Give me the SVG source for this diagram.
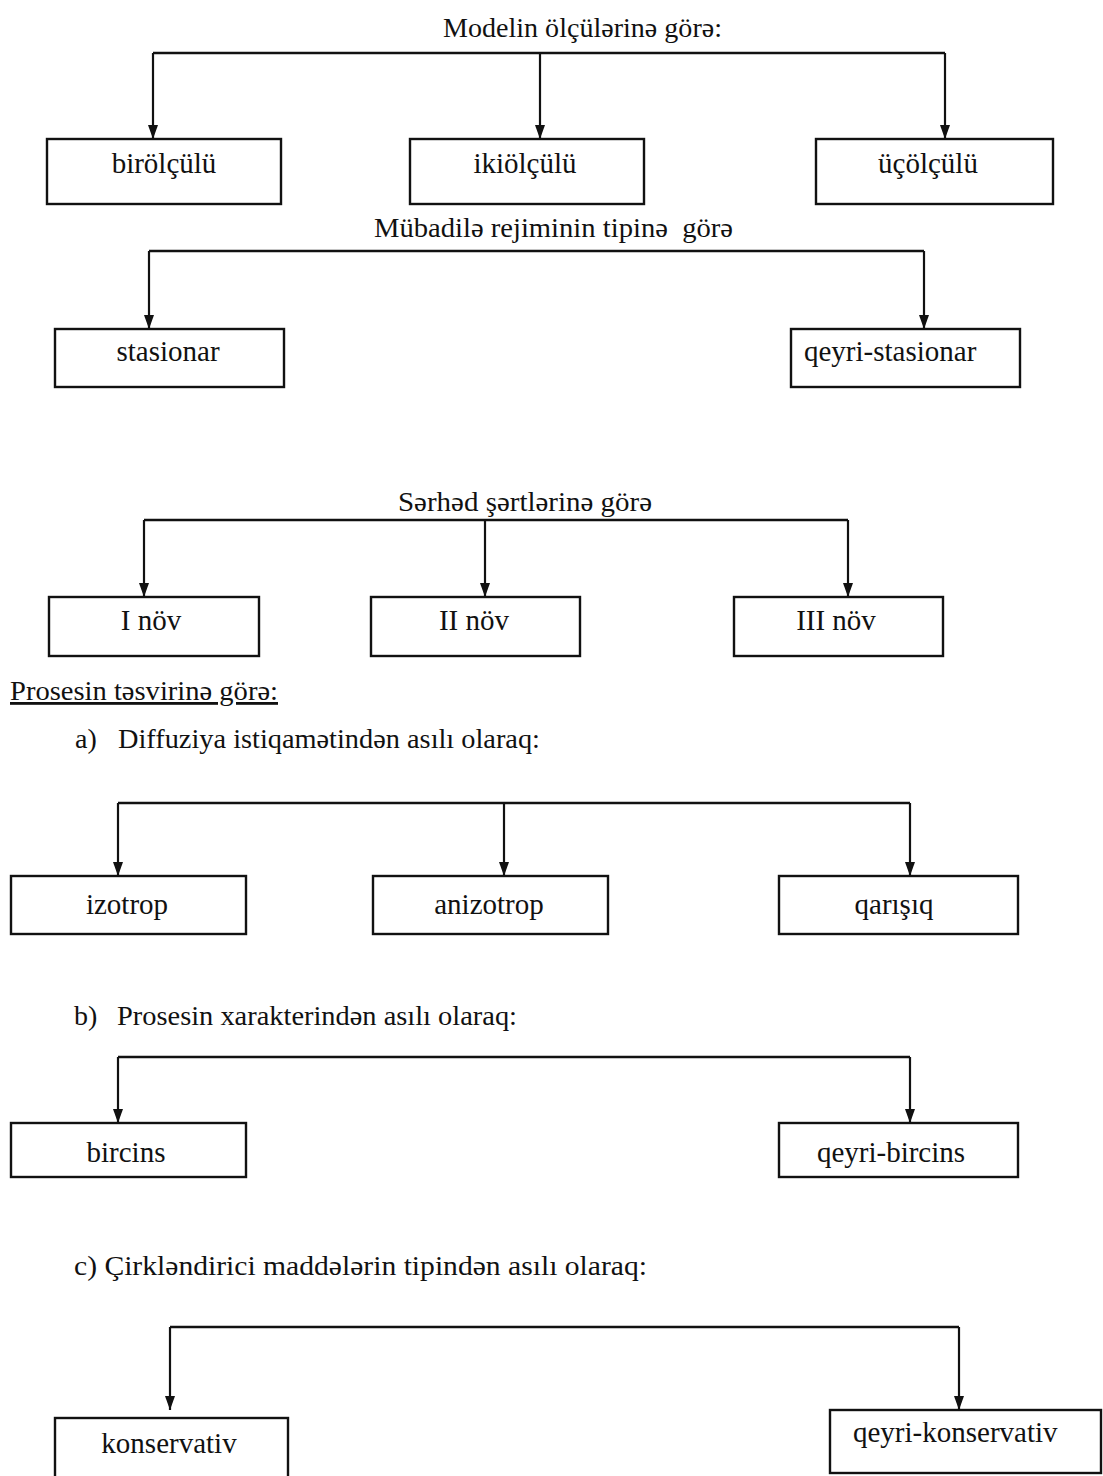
<svg xmlns="http://www.w3.org/2000/svg" width="1103" height="1476" viewBox="0 0 1103 1476">
<style>
text{font-family:"Liberation Serif","Times New Roman",serif;fill:#111;}
.h{font-size:28px;}
.l{font-size:29px;text-anchor:middle;}
.ls{font-size:29px;}
.box{fill:#fff;stroke:#111;stroke-width:2.4;}
.bar{fill:none;stroke:#111;stroke-width:2.4;}
.drop{fill:none;stroke:#111;stroke-width:2.2;marker-end:url(#ah);}
</style>
<defs>
<marker id="ah" viewBox="0 0 14 10" refX="14" refY="5" markerWidth="14" markerHeight="10" markerUnits="userSpaceOnUse" orient="auto">
<path d="M0,0 L14,5 L0,10 z" fill="#111"/>
</marker>
</defs>
<rect width="1103" height="1476" fill="#fff"/>
<g id="headings">
<text class="h" x="443" y="37" textLength="279" lengthAdjust="spacingAndGlyphs">Modelin ölçülərinə görə:</text>
<text class="h" x="374" y="237" textLength="359" lengthAdjust="spacingAndGlyphs" style="white-space:pre">Mübadilə rejiminin tipinə  görə</text>
<text class="h" x="398" y="511" textLength="254" lengthAdjust="spacingAndGlyphs">Sərhəd şərtlərinə görə</text>
<text class="h" x="10" y="700" text-decoration="underline" textLength="268" lengthAdjust="spacingAndGlyphs">Prosesin təsvirinə görə:</text>
<text class="h" x="75" y="748">a)<tspan x="118" textLength="422" lengthAdjust="spacingAndGlyphs">Diffuziya istiqamətindən asılı olaraq:</tspan></text>
<text class="h" x="74" y="1025">b)<tspan x="117" textLength="400" lengthAdjust="spacingAndGlyphs">Prosesin xarakterindən asılı olaraq:</tspan></text>
<text class="h" x="74" y="1275" textLength="573" lengthAdjust="spacingAndGlyphs">c) Çirkləndirici maddələrin tipindən asılı olaraq:</text>
</g>
<g id="connectors">
<path class="bar" d="M153,53 H945"/>
<path class="drop" d="M153,53 V139"/>
<path class="drop" d="M540,53 V139"/>
<path class="drop" d="M945,53 V139"/>
<path class="bar" d="M149,251 H924"/>
<path class="drop" d="M149,251 V329"/>
<path class="drop" d="M924,251 V329"/>
<path class="bar" d="M144,520 H848"/>
<path class="drop" d="M144,520 V597"/>
<path class="drop" d="M485,520 V597"/>
<path class="drop" d="M848,520 V597"/>
<path class="bar" d="M118,803 H910"/>
<path class="drop" d="M118,803 V876"/>
<path class="drop" d="M504,803 V876"/>
<path class="drop" d="M910,803 V876"/>
<path class="bar" d="M118,1057 H910"/>
<path class="drop" d="M118,1057 V1123"/>
<path class="drop" d="M910,1057 V1123"/>
<path class="bar" d="M170,1327 H959"/>
<path class="drop" d="M170,1327 V1410"/>
<path class="drop" d="M959,1327 V1410"/>
</g>
<g id="n-birolculu"><rect class="box" x="47" y="139" width="234" height="65"/><text class="l" x="164" y="173">birölçülü</text></g>
<g id="n-ikiolculu"><rect class="box" x="410" y="139" width="234" height="65"/><text class="l" x="525" y="173">ikiölçülü</text></g>
<g id="n-ucolculu"><rect class="box" x="816" y="139" width="237" height="65"/><text class="l" x="928" y="173">üçölçülü</text></g>
<g id="n-stasionar"><rect class="box" x="55" y="329" width="229" height="58"/><text class="l" x="168" y="361">stasionar</text></g>
<g id="n-qeyri-stasionar"><rect class="box" x="791" y="329" width="229" height="58"/><text class="ls" x="804" y="361">qeyri-stasionar</text></g>
<g id="n-i-nov"><rect class="box" x="49" y="597" width="210" height="59"/><text class="l" x="151" y="630">I növ</text></g>
<g id="n-ii-nov"><rect class="box" x="371" y="597" width="209" height="59"/><text class="l" x="474" y="630">II növ</text></g>
<g id="n-iii-nov"><rect class="box" x="734" y="597" width="209" height="59"/><text class="l" x="836" y="630">III növ</text></g>
<g id="n-izotrop"><rect class="box" x="11" y="876" width="235" height="58"/><text class="l" x="127" y="914">izotrop</text></g>
<g id="n-anizotrop"><rect class="box" x="373" y="876" width="235" height="58"/><text class="l" x="489" y="914">anizotrop</text></g>
<g id="n-qarisiq"><rect class="box" x="779" y="876" width="239" height="58"/><text class="l" x="894" y="914">qarışıq</text></g>
<g id="n-bircins"><rect class="box" x="11" y="1123" width="235" height="54"/><text class="l" x="126" y="1162">bircins</text></g>
<g id="n-qeyri-bircins"><rect class="box" x="779" y="1123" width="239" height="54"/><text class="l" x="891" y="1162">qeyri-bircins</text></g>
<g id="n-konservativ"><rect class="box" x="55" y="1418" width="233" height="80"/><text class="l" x="169" y="1453">konservativ</text></g>
<g id="n-qeyri-konservativ"><rect class="box" x="830" y="1410" width="271" height="63"/><text class="ls" x="853" y="1442">qeyri-konservativ</text></g>
</svg>
